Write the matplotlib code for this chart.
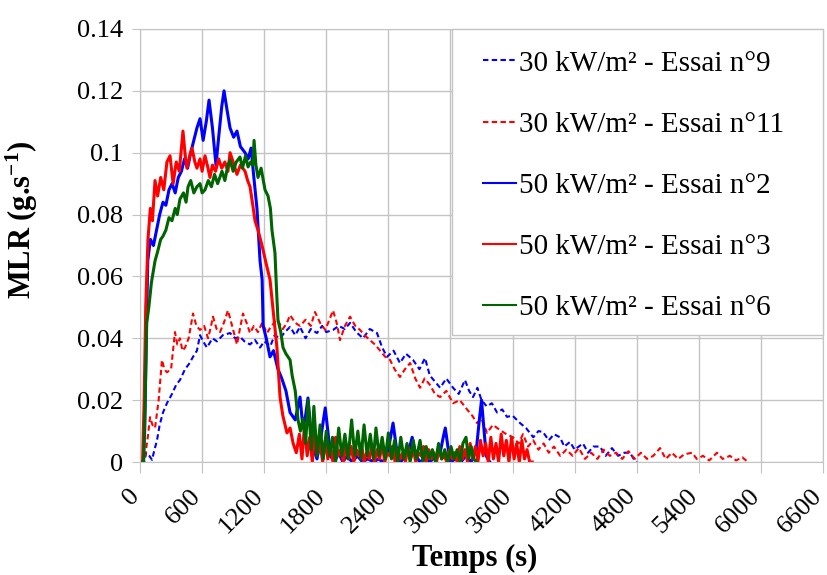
"""MLR curves, cone calorimeter tests at 30 and 50 kW/m2"""
import matplotlib
matplotlib.use("Agg")
import matplotlib.pyplot as plt
from matplotlib.patches import Rectangle

plt.rcParams["font.family"] = ["Liberation Serif", "DejaVu Serif"]
plt.rcParams["mathtext.fontset"] = "custom"
plt.rcParams["mathtext.rm"] = "Liberation Serif:bold"
plt.rcParams["mathtext.default"] = "rm"

X_TICKS = [0, 600, 1200, 1800, 2400, 3000, 3600, 4200, 4800, 5400, 6000, 6600]
Y_TICKS = [0, 0.02, 0.04, 0.06, 0.08, 0.1, 0.12, 0.14]
Y_LABELS = ["0", "0.02", "0.04", "0.06", "0.08", "0.1", "0.12", "0.14"]

LABELS = ["30 kW/m² - Essai n°9", "30 kW/m² - Essai n°11",
          "50 kW/m² - Essai n°2", "50 kW/m² - Essai n°3", "50 kW/m² - Essai n°6"]

# (time s, MLR g/s)
ESSAI_9 = [(0, 0), (40, 0), (60, 0.003), (90, 0.002), (116, 0.0007), (140, 0.004), (164, 0.007),
           (190, 0.012), (222, 0.016), (260, 0.019), (309, 0.022), (350, 0.025), (386, 0.0265),
           (435, 0.030), (480, 0.032), (512, 0.034), (550, 0.036), (580, 0.041), (610, 0.039),
           (647, 0.037), (700, 0.040), (744, 0.039), (800, 0.041), (870, 0.0417), (920, 0.040),
           (966, 0.0405), (1010, 0.039), (1063, 0.038), (1110, 0.0395), (1160, 0.037), (1200, 0.039),
           (1260, 0.0375), (1300, 0.041), (1353, 0.040), (1400, 0.042), (1450, 0.0437), (1500, 0.041),
           (1546, 0.0437), (1600, 0.040), (1650, 0.043), (1710, 0.0417), (1760, 0.044), (1800, 0.042),
           (1865, 0.0427), (1920, 0.044), (1980, 0.043), (2030, 0.045), (2090, 0.042), (2155, 0.040),
           (2220, 0.043), (2290, 0.0417), (2340, 0.037), (2387, 0.034), (2450, 0.036), (2512, 0.032),
           (2570, 0.035), (2638, 0.033), (2700, 0.030), (2754, 0.0336), (2800, 0.028), (2850, 0.026),
           (2900, 0.024), (2960, 0.027), (3025, 0.024), (3080, 0.022), (3140, 0.0265), (3180, 0.023),
           (3218, 0.021), (3260, 0.024), (3300, 0.020), (3350, 0.018), (3400, 0.019), (3450, 0.016),
           (3500, 0.017), (3546, 0.0146), (3600, 0.015), (3672, 0.0126), (3730, 0.011), (3800, 0.008),
           (3850, 0.010), (3894, 0.0097), (3950, 0.007), (4000, 0.009), (4058, 0.008), (4100, 0.005),
           (4155, 0.0065), (4200, 0.004), (4280, 0.006), (4330, 0.003), (4380, 0.005), (4445, 0.005),
           (4500, 0.002), (4560, 0.0045), (4620, 0.002), (4680, 0.003), (4735, 0.003), (4770, 0.001),
           (4800, 0)]

ESSAI_11 = [(0, 0), (30, 0), (48, 0.0016), (75, 0.008), (97, 0.0145), (120, 0.012), (145, 0.011),
            (180, 0.020), (212, 0.033), (235, 0.030), (260, 0.029), (300, 0.030), (338, 0.042),
            (360, 0.038), (386, 0.040), (410, 0.036), (435, 0.037), (470, 0.040), (512, 0.048),
            (545, 0.044), (580, 0.0427), (620, 0.044), (657, 0.040), (680, 0.043), (705, 0.047),
            (740, 0.043), (773, 0.042), (810, 0.045), (850, 0.049), (890, 0.044), (937, 0.038),
            (965, 0.043), (995, 0.048), (1030, 0.045), (1063, 0.0417), (1100, 0.044), (1140, 0.042),
            (1180, 0.045), (1227, 0.0417), (1270, 0.044), (1324, 0.046), (1380, 0.043), (1420, 0.045),
            (1450, 0.0475), (1500, 0.045), (1546, 0.044), (1600, 0.046), (1650, 0.044), (1691, 0.0485),
            (1740, 0.045), (1790, 0.0427), (1830, 0.046), (1865, 0.049), (1900, 0.045), (1933, 0.0394),
            (1980, 0.044), (2030, 0.047), (2080, 0.044), (2126, 0.0427), (2170, 0.041), (2222, 0.0394),
            (2270, 0.038), (2320, 0.036), (2370, 0.034), (2416, 0.033), (2460, 0.030), (2512, 0.0275),
            (2560, 0.030), (2610, 0.032), (2660, 0.027), (2706, 0.024), (2750, 0.027), (2800, 0.025),
            (2850, 0.022), (2900, 0.021), (2960, 0.023), (3025, 0.019), (3090, 0.020), (3160, 0.017),
            (3210, 0.015), (3256, 0.0126), (3300, 0.014), (3353, 0.0094), (3410, 0.012), (3480, 0.0103),
            (3540, 0.009), (3604, 0.008), (3660, 0.006), (3700, 0.009), (3750, 0.005), (3800, 0.007),
            (3850, 0.004), (3900, 0.006), (3950, 0.003), (4000, 0.005), (4060, 0.002), (4120, 0.004),
            (4180, 0.002), (4240, 0.0045), (4300, 0.001), (4360, 0.003), (4420, 0.001), (4480, 0.004),
            (4540, 0.002), (4600, 0.003), (4660, 0.001), (4720, 0.0035), (4780, 0.001), (4840, 0.003),
            (4900, 0.001), (4960, 0.002), (5025, 0.0045), (5080, 0.001), (5140, 0.003), (5200, 0.001),
            (5260, 0.0025), (5335, 0.003), (5380, 0.001), (5440, 0.002), (5500, 0.0005), (5575, 0.003),
            (5630, 0.001), (5700, 0.002), (5760, 0.0005), (5820, 0.0015), (5875, 0)]

ESSAI_2 = [(0, 0), (30, 0), (45, 0.010), (60, 0.040), (75, 0.065), (100, 0.072), (130, 0.070),
           (160, 0.075), (190, 0.080), (222, 0.084), (250, 0.083), (280, 0.088), (310, 0.090),
           (340, 0.087), (370, 0.092), (400, 0.094), (430, 0.098), (460, 0.095), (490, 0.100),
           (520, 0.104), (550, 0.108), (580, 0.111), (610, 0.104), (640, 0.110), (667, 0.117),
           (700, 0.108), (734, 0.096), (760, 0.105), (790, 0.115), (812, 0.120), (840, 0.114),
           (870, 0.108), (905, 0.105), (937, 0.107), (970, 0.102), (1015, 0.100), (1045, 0.098),
           (1073, 0.1015), (1100, 0.092), (1130, 0.082), (1160, 0.065), (1180, 0.059), (1190, 0.044),
           (1220, 0.040), (1256, 0.034), (1290, 0.036), (1333, 0.030), (1370, 0.027), (1410, 0.023),
           (1450, 0.016), (1500, 0.0136), (1546, 0.021), (1575, 0.011), (1600, 0.015), (1623, 0.0207),
           (1650, 0.010), (1680, 0.004), (1710, 0.001), (1740, 0.006), (1765, 0.012), (1790, 0.0175),
           (1815, 0.010), (1840, 0.002), (1880, 0), (1920, 0.003), (1960, 0), (2000, 0.002), (2050, 0),
           (2100, 0.002), (2150, 0), (2200, 0.001), (2260, 0), (2300, 0.001), (2350, 0), (2400, 0.004),
           (2445, 0.0126), (2480, 0.004), (2520, 0), (2560, 0.002), (2600, 0.004), (2630, 0.008),
           (2660, 0.003), (2700, 0), (2750, 0.001), (2800, 0), (2860, 0.002), (2900, 0.003),
           (2930, 0.008), (2950, 0.011), (2975, 0.005), (3000, 0), (3050, 0.001), (3100, 0),
           (3150, 0.002), (3200, 0), (3250, 0.004), (3280, 0.014), (3300, 0.020), (3320, 0.012),
           (3345, 0.002), (3380, 0)]

ESSAI_3 = [(0, 0), (25, 0), (40, 0.020), (55, 0.050), (77, 0.072), (100, 0.082), (120, 0.078),
           (145, 0.091), (170, 0.086), (200, 0.092), (230, 0.088), (260, 0.097), (290, 0.099),
           (320, 0.090), (350, 0.097), (380, 0.094), (415, 0.107), (440, 0.098), (454, 0.095),
           (480, 0.099), (502, 0.1015), (530, 0.097), (550, 0.095), (580, 0.098), (600, 0.094),
           (628, 0.099), (650, 0.096), (676, 0.092), (700, 0.096), (730, 0.094), (760, 0.098),
           (790, 0.095), (820, 0.097), (850, 0.094), (870, 0.100), (900, 0.097), (937, 0.093),
           (970, 0.096), (1015, 0.094), (1040, 0.091), (1063, 0.089), (1090, 0.083), (1111, 0.078),
           (1140, 0.075), (1179, 0.070), (1220, 0.064), (1256, 0.059), (1290, 0.048), (1323, 0.037),
           (1340, 0.028), (1353, 0.021), (1380, 0.015), (1420, 0.0094), (1450, 0.011), (1480, 0.006),
           (1510, 0.003), (1540, 0.009), (1565, 0.001), (1590, 0.012), (1615, 0.002), (1640, 0.008),
           (1665, 0.000), (1690, 0.010), (1715, 0.003), (1740, 0.006), (1765, 0.000), (1790, 0.007),
           (1815, 0.001), (1840, 0.005), (1865, 0.000), (1890, 0.008), (1915, 0.002), (1940, 0.004),
           (1965, 0.000), (1990, 0.006), (2015, 0.001), (2040, 0.005), (2065, 0.000), (2090, 0.004),
           (2115, 0.002), (2140, 0.006), (2165, 0.000), (2190, 0.003), (2215, 0.001), (2240, 0.005),
           (2265, 0.000), (2290, 0.004), (2315, 0.001), (2340, 0.006), (2365, 0.000), (2390, 0.003),
           (2415, 0.002), (2440, 0.005), (2465, 0.000), (2490, 0.004), (2515, 0.001), (2540, 0.003),
           (2565, 0.000), (2590, 0.005), (2615, 0.001), (2640, 0.004), (2665, 0.000), (2690, 0.003),
           (2715, 0.002), (2740, 0.005), (2765, 0.000), (2790, 0.004), (2815, 0.001), (2840, 0.003),
           (2865, 0.000), (2890, 0.004), (2915, 0.001), (2940, 0.002), (2965, 0.000), (2990, 0.004),
           (3015, 0.001), (3040, 0.003), (3065, 0.000), (3090, 0.005), (3115, 0.001), (3140, 0.004),
           (3165, 0.000), (3190, 0.006), (3215, 0.001), (3240, 0.005), (3265, 0.000), (3290, 0.007),
           (3315, 0.002), (3340, 0.006), (3365, 0.000), (3390, 0.008), (3415, 0.001), (3440, 0.006),
           (3465, 0.000), (3490, 0.009), (3515, 0.002), (3540, 0.007), (3565, 0.000), (3590, 0.008),
           (3615, 0.001), (3640, 0.006), (3665, 0.000), (3690, 0.007), (3715, 0.001), (3740, 0.004),
           (3765, 0.000), (3790, 0.000)]

ESSAI_6 = [(0, 0), (35, 0), (50, 0.020), (65, 0.045), (85, 0.050), (110, 0.058), (145, 0.065),
           (170, 0.068), (200, 0.072), (222, 0.073), (250, 0.075), (280, 0.079), (309, 0.078),
           (340, 0.082), (360, 0.080), (386, 0.085), (420, 0.087), (445, 0.084), (464, 0.089),
           (490, 0.091), (520, 0.087), (550, 0.089), (580, 0.090), (600, 0.087), (628, 0.088),
           (660, 0.091), (690, 0.089), (720, 0.093), (750, 0.090), (792, 0.094), (820, 0.091),
           (850, 0.096), (870, 0.0976), (900, 0.094), (930, 0.097), (966, 0.0986), (990, 0.095),
           (1020, 0.099), (1044, 0.0954), (1070, 0.097), (1090, 0.096), (1102, 0.104), (1120, 0.096),
           (1140, 0.092), (1170, 0.095), (1208, 0.088), (1237, 0.086), (1260, 0.082), (1275, 0.075),
           (1304, 0.0676), (1320, 0.055), (1333, 0.046), (1360, 0.042), (1382, 0.037), (1410, 0.035),
           (1450, 0.033), (1470, 0.028), (1500, 0.023), (1527, 0.0136), (1550, 0.010), (1575, 0.014),
           (1600, 0.006), (1625, 0.020), (1655, 0.004), (1680, 0.018), (1710, 0.002), (1740, 0.012),
           (1770, 0.001), (1800, 0.010), (1830, 0.002), (1860, 0.008), (1890, 0.000), (1920, 0.011),
           (1950, 0.002), (1980, 0.009), (2010, 0.001), (2045, 0.0136), (2075, 0.002), (2105, 0.010),
           (2135, 0.001), (2165, 0.012), (2195, 0.002), (2225, 0.009), (2255, 0.001), (2280, 0.011),
           (2310, 0.002), (2340, 0.008), (2370, 0.001), (2400, 0.0094), (2430, 0.001), (2460, 0.007),
           (2490, 0.000), (2520, 0.008), (2550, 0.001), (2580, 0.006), (2610, 0.000), (2640, 0.007),
           (2670, 0.001), (2706, 0.007), (2735, 0.000), (2765, 0.005), (2795, 0.001), (2825, 0.004),
           (2855, 0.000), (2885, 0.006), (2915, 0.001), (2945, 0.004), (2975, 0.000), (3005, 0.005),
           (3035, 0.001), (3065, 0.004), (3095, 0.000), (3120, 0.006), (3150, 0.008), (3175, 0.001),
           (3200, 0.005), (3225, 0.001), (3250, 0)]

SERIES = [ESSAI_9, ESSAI_11, ESSAI_2, ESSAI_3, ESSAI_6]
COLORS = ["#0000ff", "#ff0000", "#0000ff", "#ff0000", "#006400"]
DASHED = [True, True, False, False, False]
GREY = "#c4c4c4"

fig = plt.figure(figsize=(8.27, 5.75), dpi=100)
ax = fig.add_axes([0.1693, 0.1965, 0.8259, 0.7531])

for data, color, dashed, label in zip(SERIES, COLORS, DASHED, LABELS):
    t, mlr = zip(*data)
    if dashed:
        ax.plot(t, mlr, color=color, lw=1.5, ls=(0, (2.6, 1.6)), label=label)
    else:
        ax.plot(t, mlr, color=color, lw=2.2, label=label)

ax.set_xlim(0, 6600)
ax.set_ylim(0, 0.14)
ax.set_xticks(X_TICKS)
ax.set_xticklabels([str(v) for v in X_TICKS], rotation=45, ha="right", va="baseline",
                   rotation_mode="anchor", fontsize=19)
ax.set_yticks(Y_TICKS)
ax.set_yticklabels(Y_LABELS, fontsize=19)
ax.tick_params(axis="x", length=8, color=GREY, pad=17)
ax.tick_params(axis="y", length=6, color=GREY, pad=6)
ax.grid(True, color=GREY, lw=1)
ax.set_axisbelow(True)
for spine in ax.spines.values():
    spine.set_color(GREY)

ax.set_xlabel("Temps (s)", fontsize=22, fontweight="bold")
ax.xaxis.set_label_coords(0.4905, -0.19)
ax.set_ylabel("MLR (g.s$^{-1}$)", fontsize=22, fontweight="bold")
ax.yaxis.set_label_coords(-0.1464, 0.559)

# legend box: white panel with grey border in the upper right corner
ax.add_patch(Rectangle((0.4568, 0.2933), 0.5432, 0.7067, transform=ax.transAxes,
                       facecolor="white", edgecolor=GREY, lw=1, zorder=4, clip_on=False))
leg = ax.legend(loc="upper left", bbox_to_anchor=(0.4808, 0.9845), fontsize=21,
                frameon=False, borderaxespad=0, handlelength=1.13,
                handletextpad=0.1, labelspacing=1.19, borderpad=0.5)
leg.set_zorder(5)
for line in leg.get_lines():
    line.set_linewidth(1.5)

fig.savefig("out.png", dpi=100)
